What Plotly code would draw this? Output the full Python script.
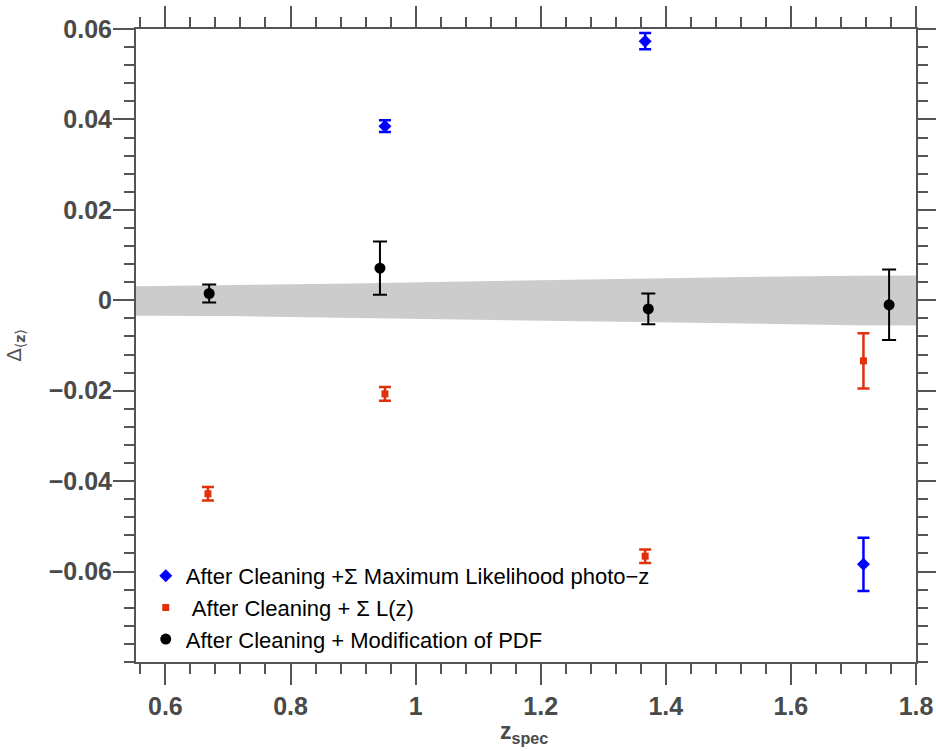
import plotly.graph_objects as go

# ---- data ----
band_x = [0.55, 0.7, 0.9, 1.1, 1.3, 1.5, 1.7, 1.8]
band_upper = [0.0031, 0.0033, 0.0037, 0.0042, 0.0047, 0.0051, 0.0054, 0.0055]
band_lower = [-0.0034, -0.0035, -0.0038, -0.0042, -0.0047, -0.0051, -0.0055, -0.0056]

ml_x = [0.951, 1.367, 1.716]
ml_y = [0.0385, 0.0573, -0.0584]
ml_err = [0.0013, 0.0018, 0.0059]

lz_x = [0.668, 0.951, 1.367, 1.716]
lz_y = [-0.0428, -0.0207, -0.0566, -0.0134]
lz_err = [0.0015, 0.0015, 0.0015, 0.0061]

pdf_x = [0.67, 0.943, 1.372, 1.757]
pdf_y = [0.0015, 0.0071, -0.0019, -0.0010]
pdf_err = [0.0020, 0.0059, 0.0034, 0.0078]

x_ticks = [0.6, 0.8, 1.0, 1.2, 1.4, 1.6, 1.8]
x_ticktext = ["0.6", "0.8", "1", "1.2", "1.4", "1.6", "1.8"]
y_ticks = [-0.06, -0.04, -0.02, 0, 0.02, 0.04, 0.06]
y_ticktext = ["\u22120.06", "\u22120.04", "\u22120.02", "0", "0.02", "0.04", "0.06"]

names = [
    "After Cleaning +\u03a3 Maximum Likelihood photo\u2212z",
    "\u00a0After Cleaning + \u03a3 L(z)",
    "After Cleaning + Modification of PDF",
]
x_title = "<b>z<sub>spec</sub></b>"
y_title = "\u0394<sub>\u27e8<b>z</b>\u27e9</sub>"

fig = go.Figure()

# gray band
fig.add_trace(go.Scatter(
    x=band_x + band_x[::-1],
    y=band_upper + band_lower[::-1],
    fill="toself", fillcolor="#cccccc", line=dict(width=0),
    mode="lines", showlegend=False, hoverinfo="skip",
))

fig.add_trace(go.Scatter(
    x=ml_x, y=ml_y, mode="markers", name=names[0],
    marker=dict(symbol="diamond", size=10, color="#0000ff"),
    error_y=dict(type="data", array=ml_err, color="#0000ff", thickness=2.5, width=6),
))
fig.add_trace(go.Scatter(
    x=lz_x, y=lz_y, mode="markers", name=names[1],
    marker=dict(symbol="square", size=7, color="#e0300c"),
    error_y=dict(type="data", array=lz_err, color="#e0300c", thickness=2.5, width=6),
))
fig.add_trace(go.Scatter(
    x=pdf_x, y=pdf_y, mode="markers", name=names[2],
    marker=dict(symbol="circle", size=11, color="#000000"),
    error_y=dict(type="data", array=pdf_err, color="#000000", thickness=2, width=7),
))

axis_common = dict(
    showline=True, linecolor="#555555", linewidth=2, mirror="ticks",
    ticks="outside", ticklen=21, tickwidth=1.5, tickcolor="#555555",
    showgrid=False, zeroline=False, automargin=False,
    tickfont=dict(family="Liberation Sans, Arial, sans-serif", size=25,
                  color="#4a4a4a", weight="bold"),
)

fig.update_xaxes(
    range=[0.553, 1.8], tickvals=x_ticks, ticktext=x_ticktext,
    minor=dict(dtick=0.04, tick0=0.6, ticks="outside", ticklen=10,
               tickwidth=1.5, tickcolor="#555555"),
    **axis_common,
)
fig.update_yaxes(
    range=[-0.08, 0.06], tickvals=y_ticks, ticktext=y_ticktext,
    minor=dict(dtick=0.004, tick0=0, ticks="outside", ticklen=10,
               tickwidth=1.5, tickcolor="#555555"),
    ticklabelstandoff=-4,
    **axis_common,
)

fig.add_annotation(
    text=x_title, xref="paper", yref="paper", x=0.497, y=-0.085,
    xanchor="center", yanchor="top", showarrow=False,
    font=dict(family="Liberation Sans, Arial, sans-serif", size=23, color="#4a4a4a"),
)
fig.add_annotation(
    text=y_title, xref="paper", yref="paper", x=-0.156, y=0.5,
    xanchor="center", yanchor="middle", showarrow=False, textangle=-90,
    font=dict(family="DejaVu Sans, Liberation Sans, sans-serif", size=20, color="#555555"),
)

fig.update_layout(
    width=936, height=751,
    margin=dict(l=136, r=20, t=29, b=89),
    paper_bgcolor="white", plot_bgcolor="white",
    legend=dict(
        x=0.0125, y=0.169, xanchor="left", yanchor="top",
        bgcolor="rgba(0,0,0,0)", borderwidth=0,
        font=dict(family="Liberation Sans, Arial, sans-serif", size=22, color="#000000"),
        tracegroupgap=0, itemsizing="trace",
    ),
)

fig.write_html(
    "out.html",
    config={"displayModeBar": False},
    post_script="document.body.style.margin='0';document.body.style.overflow='hidden';",
)
